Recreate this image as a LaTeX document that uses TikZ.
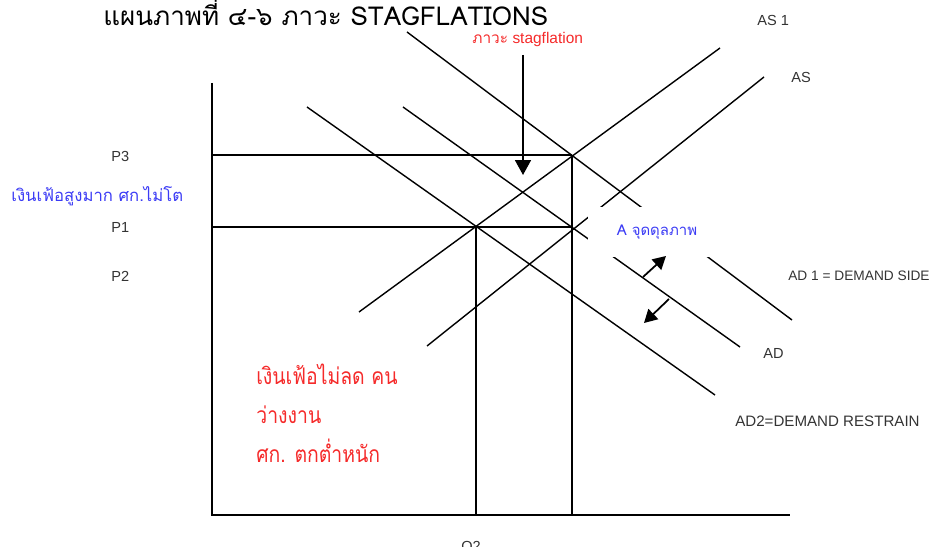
\documentclass[tikz,border=0pt]{standalone}
\usepackage{fontspec}
\setmainfont{Liberation Sans}
\newfontfamily\thaifont[Script=Thai]{Loma}
\newfontfamily\thainarrow[Script=Thai, FakeStretch=0.85]{Loma}
\usetikzlibrary{positioning, arrows.meta}
\definecolor{lblgray}{HTML}{333333}
\definecolor{thblue}{HTML}{3B3BF5}
\definecolor{thred}{HTML}{F52A2A}
\tikzset{
  axisline/.style = {draw=black, line width=0.85pt},
  guide/.style    = {draw=black, line width=0.8pt},
  curve/.style    = {draw=black, line width=0.8pt},
  lbl/.style      = {inner sep=0pt, anchor=base west, text=lblgray,
                     font=\fontsize{8.3pt}{10pt}\selectfont},
  thlbl/.style    = {inner sep=0pt, anchor=base west, font=\thaifont},
  note/.style     = {thlbl, text=thred, font=\thainarrow\fontsize{13pt}{15pt}\selectfont},
  callarr/.style  = {-{Triangle[length=3mm,width=3.2mm]}, line width=1pt},
  shiftarr/.style = {-{Triangle[length=2.6mm,width=2.8mm]}, line width=1pt},
}

\begin{document}
\begin{tikzpicture}[x=0.02cm, y=-0.02cm]
  \useasboundingbox (0,0) rectangle (931,547);
  \clip (0,0) rectangle (931,547);

  % AXES
  \coordinate (O)    at (212,515);
  \coordinate (ytop) at (212,83);
  \coordinate (xend) at (790,515);
  \draw[axisline] (ytop) -- (O) -- (xend);

  % equilibrium points
  \coordinate (A)  at (476,227);
  \coordinate (E2) at (572,227);
  \coordinate (E3) at (572,155);

  % GUIDES to the axes
  \draw[guide] (O |- E3) -- (E3);
  \draw[guide] (O |- A) -- (E2);
  \draw[guide] (A) -- (A |- O);
  \draw[guide] (E3) -- (E3 |- O);

  % SUPPLY curves
  \coordinate (as1lo) at (359,312);
  \coordinate (as1hi) at (720,48);
  \coordinate (aslo)  at (427,346);
  \coordinate (ashi)  at (764,77);
  \draw[curve] (as1lo) -- (as1hi);
  \draw[curve] (aslo) -- (ashi);

  % DEMAND curves
  \coordinate (ad2hi) at (307,107);
  \coordinate (ad2lo) at (715,395);
  \coordinate (adhi)  at (403,107);
  \coordinate (adlo)  at (740,347);
  \coordinate (ad1hi) at (407,32);
  \coordinate (ad1lo) at (792,320);
  \draw[curve] (ad2hi) -- (ad2lo);
  \draw[curve] (adhi) -- (adlo);
  \draw[curve] (ad1hi) -- (ad1lo);

  % equilibrium label (white box masks the curves)
  \node[fill=white, inner sep=0pt, minimum width=2.76cm, minimum height=1.0cm,
        text=thblue, font=\thaifont\fontsize{8.5pt}{10pt}\selectfont] (eqlbl)
       at (657,232) {A จุดดุลภาพ};

  % shift arrows
  \coordinate (up0) at (643,277);
  \coordinate (up1) at (666,256);
  \coordinate (dn0) at (669,299);
  \coordinate (dn1) at (644,323);
  \draw[shiftarr] (up0) -- (up1);
  \draw[shiftarr] (dn0) -- (dn1);

  % TITLE and callout
  \node[thlbl, font=\thaifont\fontsize{14.8pt}{18pt}\selectfont, text=black] (title)
       at (103,26) {แผนภาพที่ ๔-๖ ภาวะ STAGFLATIONS};
  \node[lbl, text=thred, font=\fontsize{8.8pt}{10pt}\selectfont] (stag)
       at (472,44) {{\thaifont ภาวะ} stagflation};
  \coordinate (callhi) at (523,55);
  \coordinate (calllo) at (523,175);
  \draw[callarr] (callhi) -- (calllo);

  % curve labels
  \node[lbl] (las1) at (757,26)  {AS 1};
  \node[lbl] (las)  at (791,83)  {AS};
  \node[lbl, font=\fontsize{7.8pt}{10pt}\selectfont] (lad1) at (788,281) {AD 1 = DEMAND SIDE};
  \node[lbl] (lad)  at (763,359) {AD};
  \node[lbl, font=\fontsize{8.6pt}{10pt}\selectfont] (lad2) at (735,427) {AD2=DEMAND RESTRAIN};

  % price and quantity labels
  \node[lbl] (p3) at (111,162) {P3};
  \node[lbl] (p1) at (111,233) {P1};
  \node[lbl] (p2) at (111,282) {P2};
  \node[lbl] (q2) at (461,552) {Q2};

  % notes
  \node[thlbl, text=thblue, font=\thaifont\fontsize{9.5pt}{12pt}\selectfont] (hiinf)
       at (11,202) {เงินเฟ้อสูงมาก ศก.ไม่โต};
  \node[note] (note1) at (256,385) {เงินเฟ้อไม่ลด คน};
  \node[note] (note2) at (256,424) {ว่างงาน};
  \node[note] (note3) at (256,463) {ศก. ตกต่ำหนัก};

\end{tikzpicture}
\end{document}
